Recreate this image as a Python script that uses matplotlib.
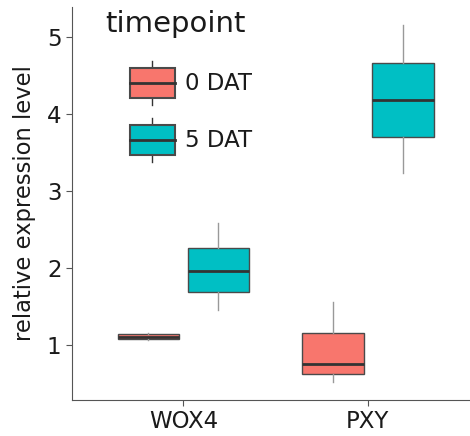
import numpy as np
import matplotlib
matplotlib.use("Agg")
import matplotlib.pyplot as plt
from matplotlib.patches import Rectangle
from matplotlib.lines import Line2D
from matplotlib.legend_handler import HandlerBase

genes = ["WOX4", "PXY"]
timepoints = ["0 DAT", "5 DAT"]
colors = ["#F8766D", "#00BFC4"]

# box stats: [whislo, q1, med, q3, whishi]
wox4_0 = [1.065, 1.075, 1.10, 1.14, 1.15]
wox4_5 = [1.455, 1.69, 1.957, 2.264, 2.58]
pxy_0 = [0.523, 0.623, 0.749, 1.152, 1.562]
pxy_5 = [3.23, 3.705, 4.182, 4.658, 5.156]
data = {"0 DAT": [wox4_0, pxy_0], "5 DAT": [wox4_5, pxy_5]}

plt.rcParams["font.family"] = "DejaVu Sans"
fig = plt.figure(figsize=(4.7, 4.36), dpi=100)
ax = fig.add_axes([0.153, 0.083, 0.845, 0.901])

offset = 0.19
width = 0.335
edge = "#4a4a4a"

for j, tp in enumerate(timepoints):
    stats = []
    for s in data[tp]:
        stats.append({"whislo": s[0], "q1": s[1], "med": s[2], "q3": s[3], "whishi": s[4], "fliers": []})
    pos = np.arange(len(genes)) + (j - 0.5) * 2 * offset
    ax.bxp(stats, positions=pos, widths=width, patch_artist=True, showcaps=False,
           boxprops=dict(facecolor=colors[j], edgecolor=edge, linewidth=1.0),
           medianprops=dict(color="#333333", linewidth=2.0),
           whiskerprops=dict(color="#999999", linewidth=1.0),
           manage_ticks=False)


class BoxHandler(HandlerBase):
    def __init__(self, color):
        super().__init__()
        self.color = color

    def create_artists(self, legend, orig_handle, xdescent, ydescent, width, height, fontsize, trans):
        x0, y0 = -xdescent, -ydescent
        cx = x0 + width / 2
        lo, hi = y0 + height * 0.16, y0 + height * 0.84
        r = Rectangle((x0, lo), width, hi - lo,
                      facecolor=self.color, edgecolor=edge, linewidth=1.5, transform=trans)
        med = Line2D([x0, x0 + width], [y0 + height * 0.5] * 2, color="#333333", lw=2, transform=trans)
        w1 = Line2D([cx, cx], [y0, lo], color="#333333", lw=1, transform=trans)
        w2 = Line2D([cx, cx], [hi, y0 + height], color="#333333", lw=1, transform=trans)
        return [w1, w2, r, med]


h0 = Rectangle((0, 0), 1, 1)
h1 = Rectangle((0, 0), 1, 1)
leg = ax.legend([h0, h1], timepoints, loc="upper left",
                bbox_to_anchor=(0.146, 0.862), frameon=False, fontsize=16.5,
                handlelength=1.97, handleheight=2.58,
                labelspacing=0.57, handletextpad=0.45, borderpad=0, borderaxespad=0,
                handler_map={h0: BoxHandler(colors[0]), h1: BoxHandler(colors[1])})
for t in leg.get_texts():
    t.set_color("#1a1a1a")
ax.text(0.083, 0.937, "timepoint", transform=ax.transAxes, fontsize=21,
        va="baseline", ha="left", color="#1a1a1a")

ax.set_xlim(-0.605, 1.55)
ax.set_ylim(0.286, 5.39)
ax.set_xticks(range(len(genes)))
ax.set_xticklabels(genes)
ax.set_yticks([1, 2, 3, 4, 5])
ax.set_ylabel("relative expression level", fontsize=16.3, color="#1a1a1a", labelpad=7.5)
ax.tick_params(labelsize=16.5, length=4, color="#555555", labelcolor="#1a1a1a")
ax.spines["top"].set_visible(False)
ax.spines["right"].set_visible(False)
ax.spines["left"].set_color("#555555")
ax.spines["bottom"].set_color("#555555")

fig.savefig("out.png", dpi=100)
